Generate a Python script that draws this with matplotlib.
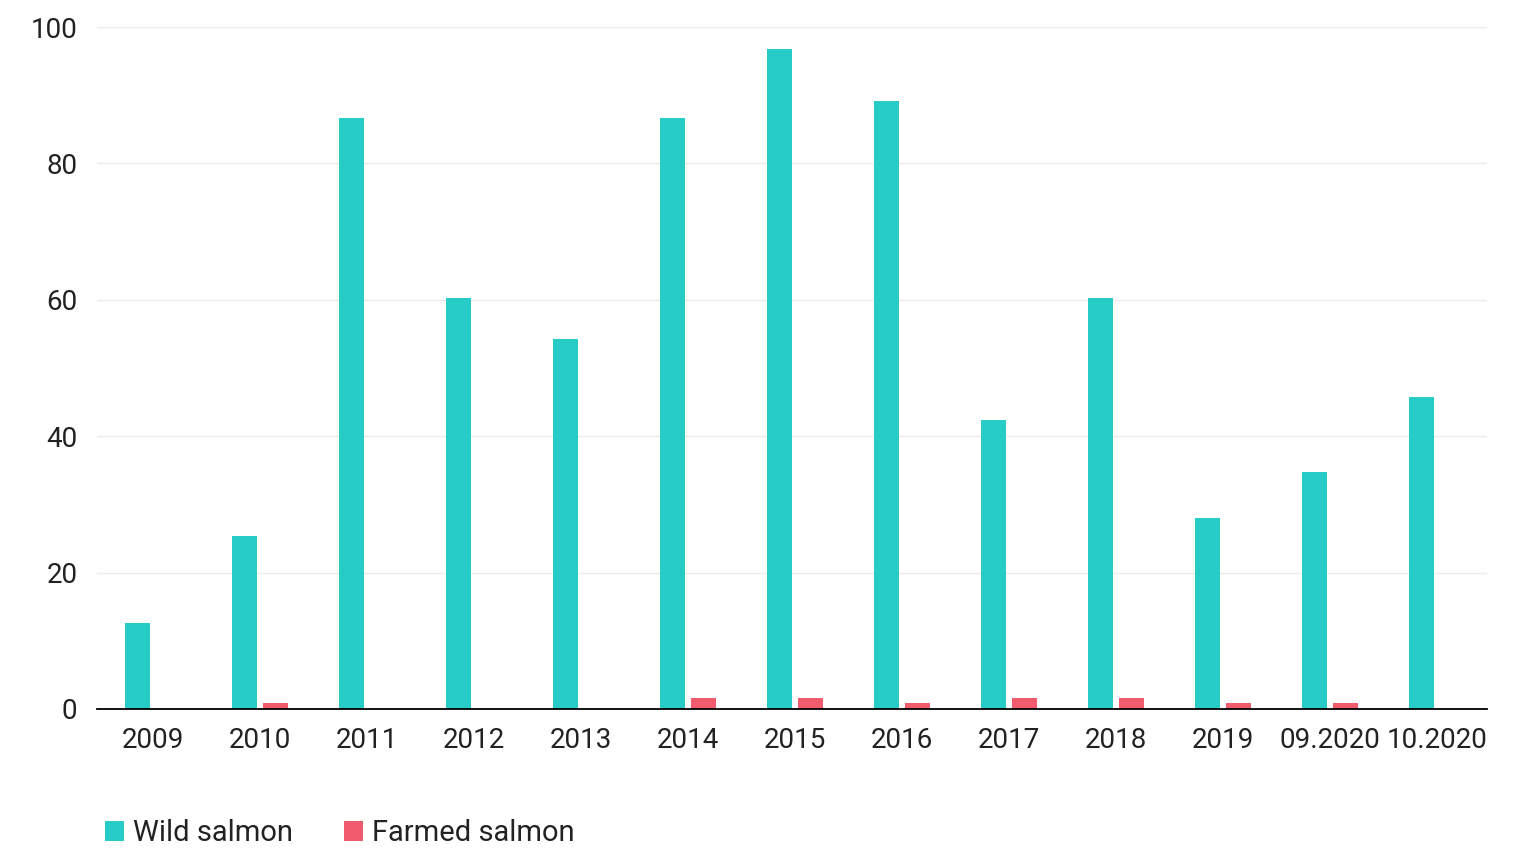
import numpy as np
import matplotlib.pyplot as plt

# values
periods = ['2009', '2010', '2011', '2012', '2013', '2014', '2015', '2016',
           '2017', '2018', '2019', '09.2020', '10.2020']
wild = [12.6, 25.4, 86.7, 60.3, 54.3, 86.7, 96.8, 89.1, 42.4, 60.3, 28.0, 34.8, 45.7]
farmed = [0, 0.8, 0, 0, 0, 1.6, 1.6, 0.8, 1.6, 1.6, 0.8, 0.8, 0]
yticks = [0, 20, 40, 60, 80, 100]

teal = '#27CCC6'
pink = '#F05B6E'

plt.rcParams['font.family'] = ['Roboto', 'DejaVu Sans']

fig = plt.figure(figsize=(15.24, 8.48), dpi=100)
ax = fig.add_axes([0.0636, 0.164, 0.9124, 0.804])

x = np.arange(len(periods))
w = 0.234
ax.bar(x - w / 2, wild, width=w, color=teal, label='Wild salmon', zorder=3)
ax.bar(x + 0.056 + w / 2, farmed, width=w, color=pink, label='Farmed salmon', zorder=3)

ax.set_xlim(-0.5, len(periods) - 0.5)
ax.set_ylim(0, 100)
ax.set_xticks(x + 0.028)
ax.set_xticklabels(periods)
ax.set_yticks(yticks)

for s in ['top', 'right', 'left']:
    ax.spines[s].set_visible(False)
ax.spines['bottom'].set_color('black')
ax.spines['bottom'].set_linewidth(1.3)
ax.spines['bottom'].set_zorder(4)
ax.grid(axis='y', color='#ebebeb', linewidth=1, zorder=0)
ax.tick_params(axis='both', length=0, labelsize=20, labelcolor='#222222')
ax.tick_params(axis='x', pad=13)
ax.tick_params(axis='y', pad=14)

fig.legend(loc='lower left', bbox_to_anchor=(0.052, -0.03), ncol=2, frameon=False,
           fontsize=21, handlelength=0.65, handleheight=0.65, handletextpad=0.3,
           columnspacing=1.75, labelcolor='#222222')

fig.savefig('out.png', dpi=100, facecolor='white')
